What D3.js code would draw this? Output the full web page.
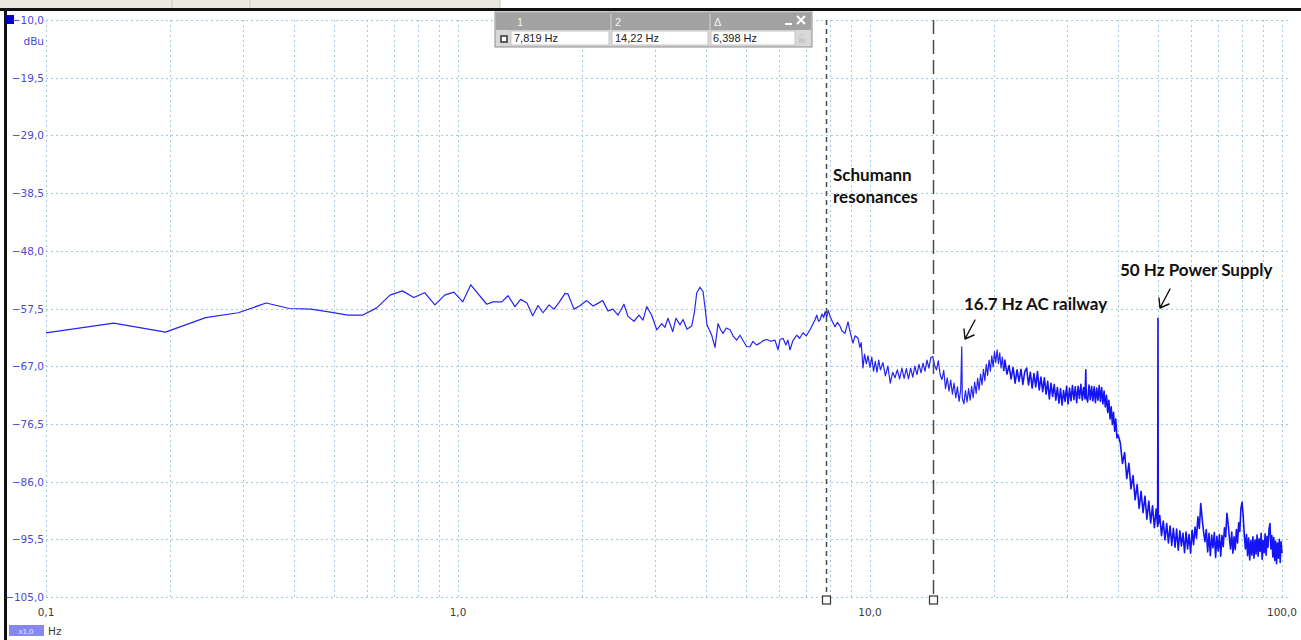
<!DOCTYPE html>
<html>
<head>
<meta charset="utf-8">
<script src="https://cdn.jsdelivr.net/npm/d3@7"></script>
<style>
    body { margin: 0; background: #fff; overflow: hidden; }
    svg { display: block; }
</style>
</head>
<body>
<svg id="chart" width="1301" height="640"></svg>
<script>
// dBu ticks of the analyser screen
const yTicks = [-10, -19.5, -29, -38.5, -48, -57.5, -67, -76.5, -86, -95.5, -105];
const xLabels = [0.1, 1, 10, 100];
const cursorHz = [7.819, 14.22];
const cursorCells = ['7,819 Hz', '14,22 Hz', '6,398 Hz'];

// spectrum, [Hz, dBu]
const spectrumLow = [
    [0.1, -61.5], [0.146, -59.9], [0.195, -61.4], [0.244, -59.0], [0.293, -58.2], [0.342, -56.6],
    [0.39, -57.5], [0.44, -57.6], [0.49, -58.1], [0.54, -58.6], [0.586, -58.6], [0.635, -57.4],
    [0.684, -55.3], [0.733, -54.6], [0.781, -55.7], [0.83, -54.9], [0.879, -56.9], [0.928, -55.3],
    [0.977, -54.8], [1.027, -56.4], [1.074, -53.6]
];
const spectrumMid = [
    [1.174, -56.8], [1.216, -56.4], [1.277, -56.4], [1.323, -55.4], [1.375, -57.2], [1.419, -56.0],
    [1.47, -56.6], [1.518, -58.7], [1.564, -57.0], [1.608, -58.2], [1.663, -56.9], [1.71, -57.6],
    [1.76, -56.5], [1.819, -55.0], [1.849, -55.1], [1.912, -57.6], [1.98, -57.0], [2.053, -56.2],
    [2.127, -57.1], [2.18, -56.7], [2.245, -56.2], [2.312, -57.9], [2.378, -57.6], [2.445, -58.6],
    [2.528, -56.8], [2.586, -58.8], [2.674, -59.6], [2.75, -58.6], [2.812, -59.4], [2.871, -57.2],
    [2.952, -58.6], [3.036, -61.0], [3.122, -60.0], [3.18, -60.6], [3.233, -59.1], [3.32, -61.3],
    [3.382, -59.1], [3.458, -60.2], [3.517, -59.3], [3.596, -60.9], [3.692, -60.4], [3.75, -58.0],
    [3.797, -54.9], [3.868, -54.0], [3.933, -54.7], [3.98, -57.5], [4.022, -60.2], [4.129, -61.9],
    [4.206, -63.9], [4.277, -60.0], [4.34, -61.0], [4.398, -61.6], [4.48, -60.7], [4.574, -61.0],
    [4.66, -62.1], [4.747, -62.7], [4.836, -61.9], [4.93, -62.9], [5.02, -63.8], [5.114, -63.8],
    [5.2, -62.9], [5.3, -63.5], [5.408, -63.2], [5.5, -62.8], [5.615, -62.6], [5.75, -62.9],
    [5.881, -62.7], [5.98, -64.3], [6.05, -62.6], [6.149, -62.4], [6.25, -63.5], [6.32, -62.7],
    [6.396, -64.3], [6.5, -62.8], [6.64, -61.9], [6.75, -62.4], [6.878, -61.5], [7.0, -62.0],
    [7.153, -61.0]
];
const spectrumSchumann = [
    [7.25, -60.2], [7.35, -59.4], [7.425, -58.6], [7.5, -59.6], [7.563, -59.4], [7.65, -58.4],
    [7.72, -59.0], [7.779, -58.0], [7.85, -58.9], [7.92, -57.8], [8.0, -58.8], [8.1, -59.6],
    [8.222, -60.5], [8.33, -59.8], [8.456, -60.4], [8.55, -61.2], [8.695, -61.6], [8.842, -59.7],
    [8.95, -61.4], [9.092, -63.2], [9.2, -62.0], [9.352, -62.4], [9.45, -63.9], [9.52, -63.1],
    [9.616, -67.3], [9.7, -65.0], [9.8, -66.6], [9.888, -65.3], [10.0, -67.2], [10.1, -65.5],
    [10.2, -67.8], [10.3, -66.2], [10.4, -68.0], [10.5, -66.0], [10.6, -67.6], [10.75, -66.4],
    [10.9, -68.6], [11.05, -67.0], [11.2, -69.8], [11.35, -68.0], [11.5, -68.9], [11.65, -67.6],
    [11.8, -69.1], [11.95, -67.3], [12.1, -69.0], [12.25, -67.4], [12.4, -69.1], [12.55, -67.3],
    [12.7, -68.8], [12.85, -67.0], [13.0, -68.4], [13.15, -66.7], [13.3, -68.1], [13.45, -66.5],
    [13.6, -67.8], [13.75, -66.0], [13.9, -67.3], [14.05, -65.6], [14.2, -65.4], [14.35, -66.9],
    [14.5, -67.6], [14.65, -66.1], [14.8, -68.4], [14.95, -69.2], [15.1, -67.7], [15.25, -70.7],
    [15.4, -68.9], [15.55, -71.1], [15.7, -69.3], [15.85, -71.6], [16.0, -69.8], [16.15, -72.2],
    [16.3, -70.4], [16.45, -72.8], [16.6, -70.9], [16.7, -63.8], [16.75, -72.3], [16.9, -73.2],
    [17.05, -71.0], [17.2, -72.9], [17.35, -70.7], [17.5, -72.6], [17.65, -70.3], [17.8, -72.2],
    [17.95, -69.6], [18.1, -71.5], [18.25, -69.0], [18.4, -70.9], [18.55, -68.3], [18.7, -70.1],
    [18.85, -67.5], [19.0, -69.4], [19.15, -66.7], [19.3, -68.5], [19.45, -66.0], [19.6, -67.8],
    [19.75, -65.3], [19.9, -67.1], [20.05, -64.6], [20.2, -66.4], [20.35, -64.3], [20.5, -66.6],
    [20.65, -64.8], [20.8, -67.3], [20.95, -65.5], [21.1, -67.8]
];
const spectrumRail = [
    [21.25, -66.0], [21.5, -68.3], [21.75, -66.9], [22.0, -69.1], [22.25, -67.2], [22.5, -69.8],
    [22.75, -67.6], [23.0, -69.5], [23.25, -67.5], [23.5, -70.0], [23.75, -67.9], [24.0, -67.3],
    [24.25, -70.1], [24.5, -68.0], [24.75, -70.6], [25.0, -68.2], [25.25, -70.4], [25.5, -67.9],
    [25.75, -70.9], [26.0, -68.8], [26.25, -71.2], [26.5, -68.9], [26.75, -71.6], [27.0, -69.5],
    [27.25, -72.4], [27.5, -69.8], [27.75, -72.0], [28.0, -70.0], [28.25, -72.6], [28.5, -70.5],
    [28.75, -73.1], [29.0, -70.7], [29.25, -73.4], [29.5, -71.0], [29.75, -72.8], [30.0, -70.3],
    [30.25, -73.2], [30.5, -70.6], [30.75, -72.7], [31.0, -70.2], [31.25, -72.5], [31.5, -70.4],
    [31.75, -73.0], [32.0, -70.3], [32.25, -72.3], [32.5, -70.0], [32.75, -72.6], [33.0, -70.5],
    [33.25, -72.4], [33.4, -67.6], [33.5, -71.9], [33.75, -72.9], [34.0, -70.1], [34.25, -72.5],
    [34.5, -70.3], [34.75, -72.7], [35.0, -70.4], [35.25, -73.0], [35.5, -70.6], [35.75, -72.6],
    [36.0, -70.2], [36.25, -72.8], [36.5, -70.5], [36.75, -73.2], [37.0, -71.1], [37.25, -73.7],
    [37.5, -71.8], [37.75, -74.6], [38.0, -72.6], [38.25, -75.7], [38.5, -73.7], [38.75, -76.6],
    [39.0, -74.6], [39.25, -77.7], [39.5, -75.7], [39.75, -78.8], [40.0, -78.3]
];
const spectrumHigh = [
    [40.5, -79.6], [41.0, -83.0], [41.5, -81.2], [42.0, -85.5], [42.5, -83.0], [43.0, -87.2],
    [43.5, -85.0], [44.0, -89.0], [44.5, -86.5], [45.0, -90.4], [45.5, -87.6], [46.0, -91.1],
    [46.5, -88.4], [47.0, -92.2], [47.5, -89.2], [48.0, -92.8], [48.5, -90.0], [49.0, -93.6],
    [49.5, -90.5], [49.9, -93.4], [50.0, -59.1], [50.05, -80.0], [50.1, -93.0], [50.5, -91.6],
    [51.0, -94.9], [51.5, -92.5], [52.0, -95.6], [52.5, -92.9], [53.0, -96.1], [53.5, -93.3],
    [54.0, -96.5], [54.5, -93.7], [55.0, -96.8], [55.5, -93.8], [56.0, -97.3], [56.5, -94.1],
    [57.0, -96.6], [57.5, -94.5], [58.0, -97.7], [58.5, -94.3], [59.0, -97.1], [59.5, -94.7],
    [60.0, -97.8], [60.5, -94.0], [61.0, -96.4], [61.5, -93.5], [62.0, -95.3], [62.5, -91.8],
    [63.0, -93.7], [63.5, -89.6], [64.0, -92.1], [64.5, -94.2], [65.0, -95.9], [65.5, -93.9],
    [66.0, -97.6], [66.5, -94.5], [67.0, -98.2], [67.5, -94.8], [68.0, -96.9], [68.5, -94.4],
    [69.0, -98.5], [69.5, -95.0], [70.0, -97.4], [70.5, -94.7], [71.0, -98.3], [71.5, -94.9],
    [72.0, -96.7], [72.5, -93.6], [73.0, -95.1], [73.5, -91.2], [74.0, -92.9], [74.5, -95.2],
    [75.0, -97.1], [75.5, -94.3], [76.0, -97.8], [76.5, -95.1], [77.0, -97.2], [77.5, -93.9],
    [78.0, -96.1], [78.5, -92.8], [79.0, -94.2], [79.5, -90.4], [80.0, -89.4], [80.5, -91.6],
    [81.0, -94.8], [81.5, -97.1], [82.0, -94.7], [82.5, -98.2], [83.0, -95.3], [83.5, -98.9],
    [84.0, -95.7], [84.5, -98.1], [85.0, -95.1], [85.5, -98.6], [86.0, -95.6], [86.5, -97.9],
    [87.0, -94.8], [87.5, -98.3], [88.0, -95.4], [88.5, -97.5], [89.0, -94.5], [89.5, -98.8],
    [90.0, -95.7], [90.5, -97.7], [91.0, -94.6], [91.5, -98.1], [92.0, -95.0], [92.5, -96.8],
    [93.0, -93.8], [93.5, -92.9], [94.0, -97.1], [94.5, -94.9], [95.0, -98.4], [95.5, -95.2],
    [96.0, -99.0], [96.5, -95.8], [97.0, -99.5], [97.5, -96.1], [98.0, -98.6], [98.5, -95.5],
    [99.0, -99.3], [99.5, -95.9], [100.0, -97.8]
];

const notes = [
    { lines: ['Schumann', 'resonances'], x: 833, y: 181 },
    { lines: ['16.7 Hz AC railway'], x: 964, y: 310 },
    { lines: ['50 Hz Power Supply'], x: 1120, y: 276 }
];

const svg = d3.select('#chart');
const x = d3.scaleLog().domain([0.1, 100]).range([46, 1282]);
const y = d3.scaleLinear().domain([-105, -10]).range([597, 20]);
const comma = d => d3.format('.1f')(d).replace('.', ',');
const axisFont = '10.5px "DejaVu Sans", sans-serif';
const boxFont = '11px "Liberation Sans", Arial, sans-serif';

// window chrome
svg.append('rect').attr('x', 0).attr('y', 0).attr('width', 500).attr('height', 9).attr('fill', '#ebe8e0');
[172, 250, 500].forEach(px => {
    svg.append('line').attr('x1', px).attr('x2', px).attr('y1', 0).attr('y2', 9)
        .attr('stroke', '#cfcbc0');
});
svg.append('rect').attr('x', 0).attr('y', 8).attr('width', 1301).attr('height', 3).attr('fill', '#111');
svg.append('rect').attr('x', 4).attr('y', 8).attr('width', 3).attr('height', 632).attr('fill', '#111');

// grid
const grid = svg.append('g')
    .attr('stroke', '#a3cbdd')
    .attr('stroke-width', 1)
    .attr('stroke-dasharray', '2,3');
grid.selectAll('.vg')
    .data(x.ticks())
    .join('line')
    .attr('x1', d => Math.round(x(d)) + 0.5)
    .attr('x2', d => Math.round(x(d)) + 0.5)
    .attr('y1', y(-10))
    .attr('y2', y(-105));
grid.selectAll('.hg')
    .data(yTicks)
    .join('line')
    .attr('x1', 46)
    .attr('x2', 1290)
    .attr('y1', d => Math.round(y(d)) + 0.5)
    .attr('y2', d => Math.round(y(d)) + 0.5);

// y labels
svg.append('rect').attr('x', 5).attr('y', 15).attr('width', 9).attr('height', 9).attr('fill', '#0000c8');
svg.append('g')
    .selectAll('text')
    .data(yTicks)
    .join('text')
    .attr('x', 44)
    .attr('y', d => y(d) + 4)
    .attr('text-anchor', 'end')
    .style('font', axisFont)
    .attr('fill', '#4a4ad6')
    .text(d => comma(d));
svg.append('text')
    .attr('x', 44).attr('y', 45)
    .attr('text-anchor', 'end')
    .style('font', axisFont)
    .attr('fill', '#4a4ad6')
    .text('dBu');

// x labels
svg.append('g')
    .selectAll('text')
    .data(xLabels)
    .join('text')
    .attr('x', d => x(d))
    .attr('y', 616)
    .attr('text-anchor', 'middle')
    .style('font', axisFont)
    .attr('fill', '#3a3a3a')
    .text(d => comma(d));
svg.append('rect').attr('x', 9).attr('y', 625).attr('width', 35).attr('height', 11).attr('fill', '#8787f3');
svg.append('text').attr('x', 26).attr('y', 634).attr('text-anchor', 'middle')
    .style('font', '8px "Liberation Sans", Arial, sans-serif').attr('fill', '#e8e8ff').text('x1,0');
svg.append('text').attr('x', 48).attr('y', 635)
    .style('font', axisFont).attr('fill', '#3a3a3a').text('Hz');

// spectrum: sparse part thin, dense part heavier like the screen trace
const line = d3.line().x(d => x(d[0])).y(d => y(d[1]));
const sparse = [].concat(spectrumLow, spectrumMid, spectrumSchumann);
const dense = [sparse[sparse.length - 1]].concat(spectrumRail, spectrumHigh);
svg.append('path')
    .datum(sparse)
    .attr('d', line)
    .attr('fill', 'none')
    .attr('stroke', '#2424f0')
    .attr('stroke-width', 1.2)
    .attr('stroke-linejoin', 'round');
svg.append('path')
    .datum(dense)
    .attr('d', line)
    .attr('fill', 'none')
    .attr('stroke', '#1414f4')
    .attr('stroke-width', 1.6)
    .attr('stroke-linejoin', 'round');

// cursors
const dashes = ['5,4', '14,6'];
cursorHz.forEach((hz, i) => {
    const cx = Math.round(x(hz)) + 0.5;
    svg.append('line')
        .attr('x1', cx).attr('x2', cx)
        .attr('y1', y(-10)).attr('y2', y(-105) - 2)
        .attr('stroke', '#4a4a4a')
        .attr('stroke-width', 1.5)
        .attr('stroke-dasharray', dashes[i]);
    svg.append('rect')
        .attr('x', cx - 4).attr('y', y(-105) - 1)
        .attr('width', 8).attr('height', 8)
        .attr('fill', '#fff')
        .attr('stroke', '#333')
        .attr('stroke-width', 1.2);
});

// cursor readout box
const box = svg.append('g').attr('transform', 'translate(495, 12)');
box.append('rect').attr('width', 317).attr('height', 35).attr('fill', '#d8d8d8').attr('stroke', '#8e8e8e');
box.append('rect').attr('x', 1).attr('y', 1).attr('width', 315).attr('height', 17).attr('fill', '#a2a2a2');
[116, 215].forEach(cx => {
    box.append('line').attr('x1', cx).attr('x2', cx).attr('y1', 2).attr('y2', 18).attr('stroke', '#d4d4d4');
});
['1', '2', '\u0394'].forEach((t, i) => {
    box.append('text').attr('x', [22, 120, 219][i]).attr('y', 14)
        .style('font', boxFont).attr('fill', '#f4f4f4').text(t);
});
box.append('rect').attr('x', 290).attr('y', 11).attr('width', 7).attr('height', 2).attr('fill', '#fff');
box.append('path').attr('d', 'M302,4L310,12M310,4L302,12').attr('stroke', '#fff').attr('stroke-width', 2);
[[16, 114], [117, 213], [216, 300]].forEach(([a, b]) => {
    box.append('rect').attr('x', a).attr('y', 19).attr('width', b - a).attr('height', 14)
        .attr('fill', '#fff').attr('stroke', '#c4c4c4');
});
box.append('rect').attr('x', 6).attr('y', 24).attr('width', 6).attr('height', 6)
    .attr('fill', '#fff').attr('stroke', '#333').attr('stroke-width', 1.5);
cursorCells.forEach((t, i) => {
    box.append('text').attr('x', [19, 120, 218][i]).attr('y', 30)
        .style('font', boxFont).attr('fill', '#222').text(t);
});
box.append('rect').attr('x', 304).attr('y', 26).attr('width', 6).attr('height', 5).attr('fill', '#c8c8c8');
box.append('path').attr('d', 'M305,26v-2a2,2 0 0 1 4,0').attr('fill', 'none').attr('stroke', '#c8c8c8');

// annotations
notes.forEach(n => {
    n.lines.forEach((t, i) => {
        svg.append('text')
            .attr('x', n.x).attr('y', n.y + i * 22)
            .style('font', 'bold 17px Lato, "Open Sans", sans-serif')
            .attr('fill', '#111')
            .text(t);
    });
});
const arrows = [[965, 339], [1160, 308]];
arrows.forEach(([tx, ty]) => {
    svg.append('path')
        .attr('d', `M${tx + 10},${ty - 19}L${tx},${ty}M${tx},${ty}L${tx - 1},${ty - 10}M${tx},${ty}L${tx + 9},${ty - 4}`)
        .attr('fill', 'none')
        .attr('stroke', '#111')
        .attr('stroke-width', 1.4)
        .attr('stroke-linecap', 'round');
});
</script>
</body>
</html>
